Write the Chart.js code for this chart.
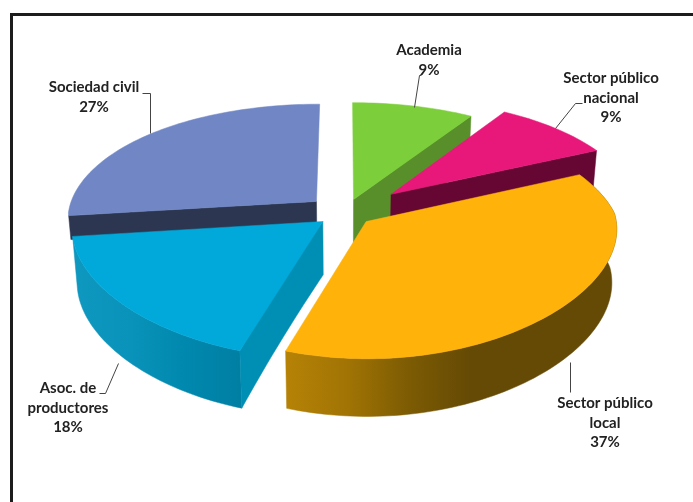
<!DOCTYPE html>
<html lang="es">
<head>
    <meta charset="UTF-8">
    <title>Actores</title>
    <script src="https://cdn.jsdelivr.net/npm/chart.js"></script>
    <style>
        body { margin: 0; background: #fff; }
        #frame { position: absolute; left: 10px; top: 13px; right: 0; bottom: 0; border-top: 3px solid #1c1c1c; border-left: 3px solid #1c1c1c; }
        #graph { position: absolute; left: 0; top: 0; }
    </style>
</head>
<body>
    <div id="frame"></div>
    <canvas id="graph" width="693" height="502"></canvas>
<script>
    // data
    const categories = ['Academia', 'Sector público nacional', 'Sector público local', 'Asoc. de productores', 'Sociedad civil'];
    const values = [9, 9, 37, 18, 27];

    // style
    const topColors = ['#7ccf3b', '#e7187a', '#ffb20a', '#00a9d9', '#7086c5'];
    const cutColors = ['#588f2b', '#660733', '#7a5a04', '#008fb4', '#2c3650'];
    // only the two front slices show their outer wall
    const wallStops = [
        null,
        null,
        ['#b58206', '#a07304', '#7c5b03', '#654a05'],
        ['#0e97bf', '#0a93ba', '#0088ae', '#007fa3'],
        null
    ];
    const wallRange = [null, null, [288, 470], [75, 240], null];
    const explode = [25, 50.5, 22.5, 23, 31];
    // which cut face of each slice can be seen: start edge, end edge
    const visibleCuts = [[false, true], [false, true], [false, false], [true, false], [true, false]];
    // the back slice only shows a band above the slice in front of it
    const cutDepth = [1, 1, 1, 1, 0.45];
    const labelLines = [['Academia'], ['Sector público', 'nacional'], ['Sector público', 'local'], ['Asoc. de', 'productores'], ['Sociedad civil']];
    const labelPos = [[429, 50], [611, 78], [605, 403], [68, 388], [94, 87]];
    const leaders = [
        [[421, 75], [419, 75], [414, 107]],
        [[582, 103], [575, 103], [555, 128]],
        [[570, 392], [570, 362]],
        [[99, 393], [105, 393], [118, 363]],
        [[142, 93], [150, 93], [150, 133]]
    ];
    const drawOrder = [4, 0, 1, 3, 2];

    // fake 3d camera
    function project(x, y, z) {
        const sx = y > 0 ? 249 - 37 * y + 8 * y * y : 249 - 15 * y;
        const wy = 1 + 0.145 * y;
        const shrink = 1 - 0.018 * z;
        return [345 + sx * x * shrink, 213 - 114.5 * y / wy + 53 * z / Math.sqrt(wy)];
    }

    function slicePoints(arc) {
        const mid = (arc.startAngle + arc.endAngle) / 2;
        const e = arc.options.offset / arc.outerRadius;
        const ox = Math.cos(mid) * e;
        const oy = -Math.sin(mid) * e;
        const rim = [];
        const steps = Math.ceil((arc.endAngle - arc.startAngle) * 40);
        for (let i = 0; i <= steps; i++) {
            const a = arc.startAngle + (arc.endAngle - arc.startAngle) * i / steps;
            rim.push([ox + Math.cos(a), oy - Math.sin(a)]);
        }
        return { apex: [ox, oy], rim: rim };
    }

    function fillPoly(ctx, pts, fill) {
        ctx.beginPath();
        pts.forEach((p, i) => i ? ctx.lineTo(p[0], p[1]) : ctx.moveTo(p[0], p[1]));
        ctx.closePath();
        ctx.fillStyle = fill;
        ctx.fill();
        ctx.strokeStyle = fill;
        ctx.lineWidth = 0.5;
        ctx.stroke();
    }

    function edgeFace(a, b, depth) {
        const pts = [];
        for (let i = 0; i <= 20; i++) {
            const x = a[0] + (b[0] - a[0]) * i / 20;
            const y = a[1] + (b[1] - a[1]) * i / 20;
            pts.push(project(x, y, 0));
        }
        for (let i = 20; i >= 0; i--) {
            const x = a[0] + (b[0] - a[0]) * i / 20;
            const y = a[1] + (b[1] - a[1]) * i / 20;
            pts.push(project(x, y, depth));
        }
        return pts;
    }

    const pie3d = {
        id: 'pie3d',
        beforeDatasetDraw(chart) {
            const ctx = chart.ctx;
            const arcs = chart.getDatasetMeta(0).data;
            drawOrder.forEach(idx => {
                const arc = arcs[idx];
                const s = slicePoints(arc);
                const first = s.rim[0];
                const last = s.rim[s.rim.length - 1];

                if (wallStops[idx]) {
                    const grad = ctx.createLinearGradient(wallRange[idx][0], 0, wallRange[idx][1], 0);
                    wallStops[idx].forEach((c, i, all) => grad.addColorStop(i / (all.length - 1), c));
                    const wall = s.rim.map(p => project(p[0], p[1], 0))
                        .concat(s.rim.slice().reverse().map(p => project(p[0], p[1], 1)));
                    fillPoly(ctx, wall, grad);
                }
                if (visibleCuts[idx][0]) fillPoly(ctx, edgeFace(s.apex, first, cutDepth[idx]), cutColors[idx]);
                if (visibleCuts[idx][1]) fillPoly(ctx, edgeFace(s.apex, last, cutDepth[idx]), cutColors[idx]);

                const top = [project(s.apex[0], s.apex[1], 0)].concat(s.rim.map(p => project(p[0], p[1], 0)));
                fillPoly(ctx, top, arc.options.backgroundColor);
            });

            // labels
            ctx.strokeStyle = '#444';
            ctx.lineWidth = 1;
            leaders.forEach(line => {
                ctx.beginPath();
                line.forEach((p, i) => i ? ctx.lineTo(p[0] + 0.5, p[1] + 0.5) : ctx.moveTo(p[0] + 0.5, p[1] + 0.5));
                ctx.stroke();
            });
            ctx.font = 'bold 15px Lato';
            ctx.fillStyle = '#222';
            ctx.textAlign = 'center';
            ctx.textBaseline = 'middle';
            categories.forEach((c, i) => {
                const lines = labelLines[i].concat([values[i] + '%']);
                lines.forEach((t, j) => ctx.fillText(t, labelPos[i][0], labelPos[i][1] + j * 19.8));
            });
            return false;
        }
    };

    new Chart(document.getElementById('graph'), {
        type: 'pie',
        data: {
            labels: categories,
            datasets: [{
                data: values,
                backgroundColor: topColors,
                offset: explode,
                borderWidth: 0
            }]
        },
        options: {
            responsive: false,
            animation: false,
            radius: 200,
            plugins: { legend: { display: false }, tooltip: { enabled: false } }
        },
        plugins: [pie3d]
    });
</script>
</body>
</html>
